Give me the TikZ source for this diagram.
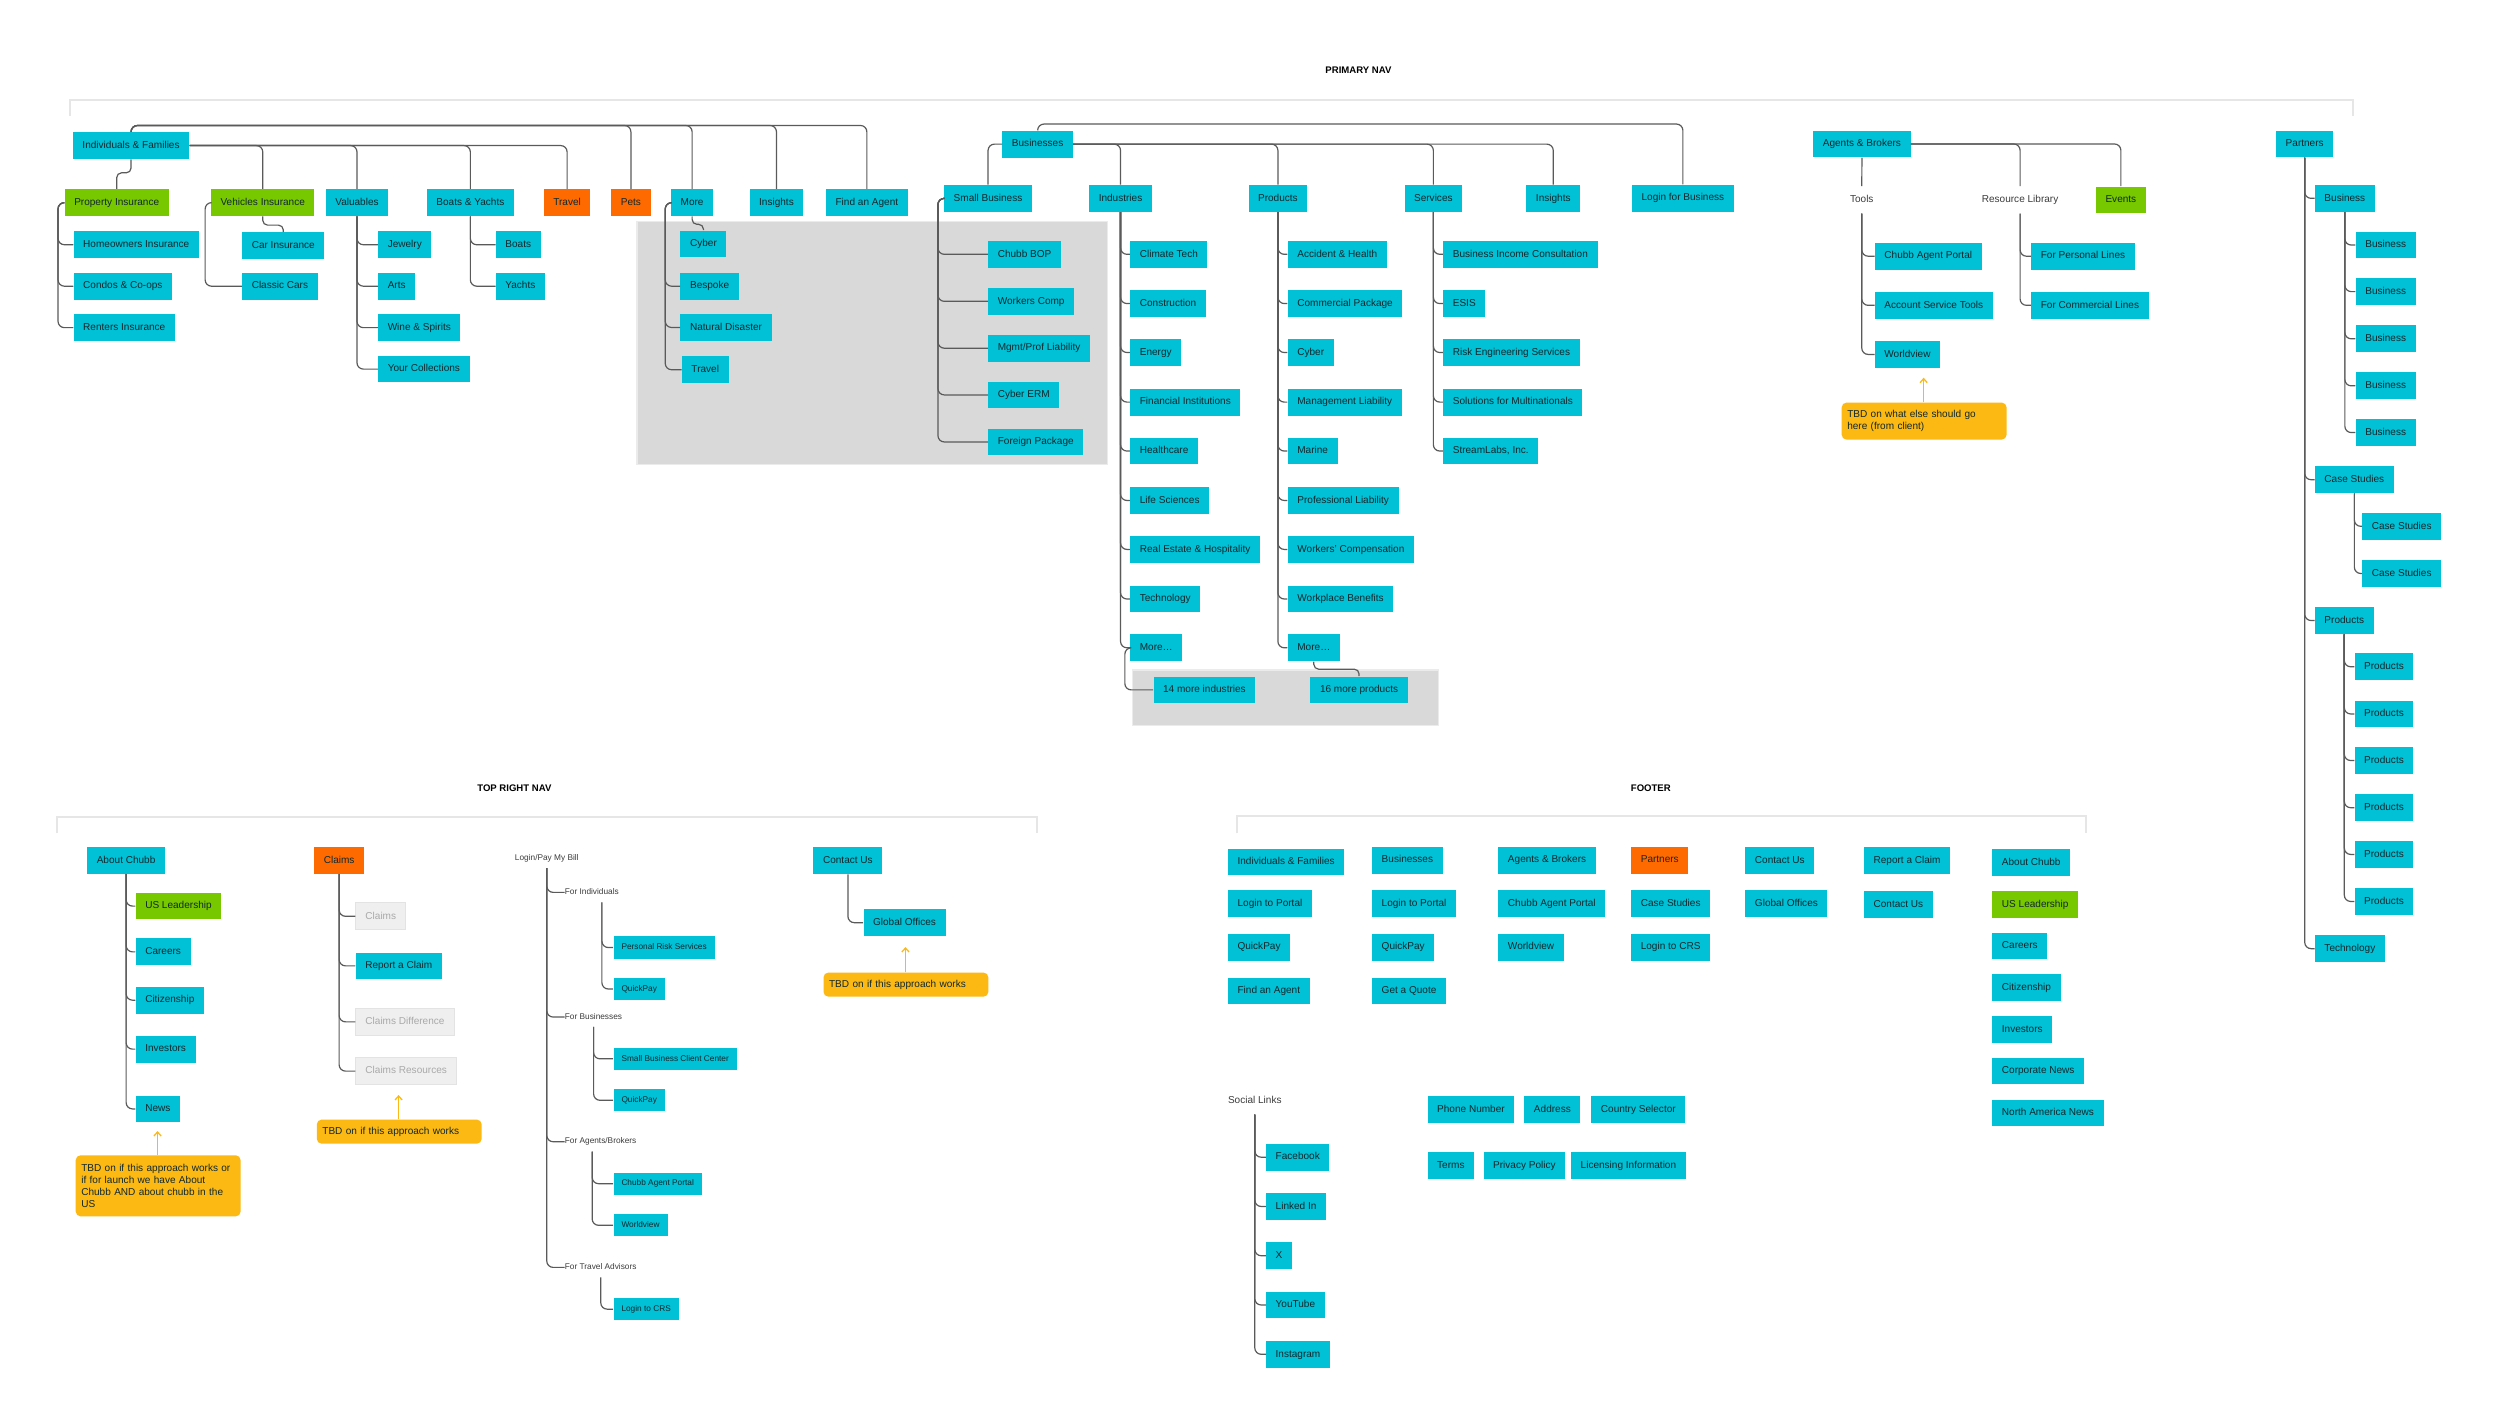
\documentclass[tikz,border=0pt]{standalone}
\usepackage{fontspec}
\setmainfont{Liberation Sans}
\usetikzlibrary{arrows.meta,calc}
\definecolor{cyanbox}{HTML}{00C1D6}
\definecolor{greenbox}{HTML}{78C800}
\definecolor{orangebox}{HTML}{FF6A00}
\definecolor{notecol}{HTML}{FDB913}
\definecolor{ink}{HTML}{10282D}
\definecolor{labelink}{HTML}{3C3C3C}
\definecolor{linecol}{HTML}{5A5A5A}
\definecolor{greyfill}{HTML}{EFEFEF}
\definecolor{greyline}{HTML}{E3E3E3}
\definecolor{greytext}{HTML}{A9A9A9}
\definecolor{areafill}{HTML}{D9D9D9}
\definecolor{arealine}{HTML}{EBEBEB}
\definecolor{brkcol}{HTML}{E6E6E6}
\newcommand\myfontA{\fontsize{6.3}{7.6}\selectfont}
\newcommand\myfontB{\fontsize{5.2}{6.2}\selectfont}
\newcommand\myfontT{\fontsize{6}{7}\selectfont\bfseries}
\begin{document}
\begin{tikzpicture}[x=1pt,y=-1pt,
  bx/.style={fill=cyanbox, text=ink, font=\myfontA, minimum height=16.8pt, inner xsep=6pt, inner ysep=0pt, text height=4.7pt, text depth=1.3pt},
  gbx/.style={bx, fill=greenbox},
  obx/.style={bx, fill=orangebox},
  qbx/.style={bx, fill=greyfill, draw=greyline, line width=0.6pt, text=greytext},
  sbx/.style={bx, font=\myfontB, minimum height=14pt, inner xsep=5pt, text height=3.9pt, text depth=1.1pt},
  lbl/.style={text=labelink, font=\myfontA, inner xsep=0pt, inner ysep=0pt, minimum height=16.8pt, text height=4.7pt, text depth=1.3pt},
  slbl/.style={lbl, font=\myfontB, minimum height=12pt, text height=3.9pt, text depth=1.1pt},
  ttl/.style={font=\myfontT, text=black},
  conn/.style={draw=linecol, line width=0.75pt, rounded corners=4pt},
  jog/.style={draw=linecol, line width=0.75pt, rounded corners=3pt},
  note/.style={fill=notecol, rounded corners=3pt, text=ink, font=\myfontA, align=left, text width=96.4pt, inner xsep=3.5pt, inner ysep=4pt, anchor=north west},
  arr/.style={draw=notecol, line width=0.8pt, -{Straight Barb[length=2.5pt,width=4.5pt]}},
  brk/.style={draw=brkcol, line width=1.3pt},
  area/.style={fill=areafill, draw=arealine, line width=0.8pt},
  w/.style={anchor=west}]
\useasboundingbox[fill=white] (0,0) rectangle (1568,894);

% ================= PRIMARY NAV =================
\node[ttl] (t1) at (852,44) {PRIMARY NAV};
\draw[brk] (44,72.5) -- (44,63) -- (1476,63) -- (1476,72.5);
\draw[area] (399.5,139) rectangle (694.5,291.3);
\draw[area] (710.5,420.2) rectangle (902.1,455.1);

% Individuals & Families
\node[bx] (ind) at (82.2,91.3) {Individuals \& Families};
\node[gbx] (prop) at (73.2,127.1) {Property Insurance};
\node[gbx] (veh) at (164.8,127.1) {Vehicles Insurance};
\node[bx] (val) at (223.9,127.1) {Valuables};
\node[bx] (boy) at (295,127.1) {Boats \& Yachts};
\node[obx] (trv) at (355.7,127.1) {Travel};
\node[obx] (pets) at (395.7,127.1) {Pets};
\node[bx] (more) at (434.1,127.1) {More};
\node[bx] (insa) at (487,127.1) {Insights};
\node[bx] (fag) at (543.7,127.1) {Find an Agent};

\node[bx,w] (home) at (46,153.5) {Homeowners Insurance};
\node[bx,w] (condo) at (46,179.5) {Condos \& Co-ops};
\node[bx,w] (rent) at (46,205.5) {Renters Insurance};
\node[bx,w] (car) at (151.7,154) {Car Insurance};
\node[bx,w] (classic) at (151.7,179.5) {Classic Cars};
\node[bx,w] (jew) at (237,153.5) {Jewelry};
\node[bx,w] (arts) at (237,179.5) {Arts};
\node[bx,w] (wine) at (237,205.5) {Wine \& Spirits};
\node[bx,w] (coll) at (237,231.5) {Your Collections};
\node[bx,w] (boat) at (310.8,153.5) {Boats};
\node[bx,w] (yacht) at (310.8,179.5) {Yachts};
\node[bx,w] (cyb) at (426.6,153) {Cyber};
\node[bx,w] (besp) at (426.6,179.5) {Bespoke};
\node[bx,w] (nat) at (426.6,205.4) {Natural Disaster};
\node[bx,w] (trv2) at (427.5,231.9) {Travel};

\foreach \c in {pets,more,insa,fag} \draw[conn] (ind.north) -- ++(0,-4) -| (\c.north);
\foreach \c in {veh,val,boy,trv} \draw[conn] (ind.east) -| (\c.north);
\draw[jog] (ind.south) -- ++(0,8.5) -| (prop.north);
\foreach \c in {home,condo,rent} \draw[conn] (prop.west) -- ++(-4,0) |- (\c.west);
\draw[jog] (veh.south) -- ++(0,5.5) -| (car.north);
\draw[conn] (veh.west) -- ++(-3.5,0) |- (classic.west);
\foreach \c in {jew,arts,wine,coll} \draw[conn] (val.south) |- (\c.west);
\foreach \c in {boat,yacht} \draw[conn] (boy.south) |- (\c.west);
\draw[jog] (more.south) -- ++(0,5) -| (cyb.north);
\foreach \c in {besp,nat,trv2} \draw[conn] (more.west) -- ++(-3.5,0) |- (\c.west);

% Businesses
\node[bx] (bus) at (650.8,90.4) {Businesses};
\node[bx] (sb) at (619.7,124.4) {Small Business};
\node[bx] (indus) at (702.8,124.4) {Industries};
\node[bx] (prod) at (801.5,124.4) {Products};
\node[bx] (serv) at (899,124.4) {Services};
\node[bx] (insb) at (974.2,124.4) {Insights};
\node[bx] (lfb) at (1055.5,124.3) {Login for Business};

\node[bx,w] (bop) at (619.6,159.5) {Chubb BOP};
\node[bx,w] (wc) at (619.6,189) {Workers Comp};
\node[bx,w] (mpl) at (619.6,218.4) {Mgmt/Prof Liability};
\node[bx,w] (cerm) at (619.6,247.7) {Cyber ERM};
\node[bx,w] (fpk) at (619.6,277.2) {Foreign Package};

\node[bx,w] (i1) at (708.7,159.5) {Climate Tech};
\node[bx,w] (i2) at (708.7,190.4) {Construction};
\node[bx,w] (i3) at (708.7,221.1) {Energy};
\node[bx,w] (i4) at (708.7,252.2) {Financial Institutions};
\node[bx,w] (i5) at (708.7,282.9) {Healthcare};
\node[bx,w] (i6) at (708.7,313.9) {Life Sciences};
\node[bx,w] (i7) at (708.7,344.6) {Real Estate \& Hospitality};
\node[bx,w] (i8) at (708.7,375.7) {Technology};
\node[bx,w] (i9) at (708.7,406.3) {More…};

\node[bx,w] (p1) at (807.5,159.5) {Accident \& Health};
\node[bx,w] (p2) at (807.5,190.4) {Commercial Package};
\node[bx,w] (p3) at (807.5,221.1) {Cyber};
\node[bx,w] (p4) at (807.5,252.2) {Management Liability};
\node[bx,w] (p5) at (807.5,282.9) {Marine};
\node[bx,w] (p6) at (807.5,313.9) {Professional Liability};
\node[bx,w] (p7) at (807.5,344.6) {Workers’ Compensation};
\node[bx,w] (p8) at (807.5,375.7) {Workplace Benefits};
\node[bx,w] (p9) at (807.5,406.3) {More…};

\node[bx,w] (s1) at (905,159.5) {Business Income Consultation};
\node[bx,w] (s2) at (905,190.4) {ESIS};
\node[bx,w] (s3) at (905,221.1) {Risk Engineering Services};
\node[bx,w] (s4) at (905,252.2) {Solutions for Multinationals};
\node[bx,w] (s5) at (905,282.9) {StreamLabs, Inc.};

\node[bx,w] (m14) at (723.3,432.7) {14 more industries};
\node[bx,w] (m16) at (821.7,432.7) {16 more products};

\draw[conn] (bus.north) -- ++(0,-4) -| (lfb.north);
\foreach \c in {indus,prod,serv,insb} \draw[conn] (bus.east) -| (\c.north);
\draw[conn] (bus.west) -| (sb.north);
\foreach \c in {bop,wc,mpl,cerm,fpk} \draw[conn] (sb.west) -- ++(-3.7,0) |- (\c.west);
\foreach \c in {i1,i2,i3,i4,i5,i6,i7,i8,i9} \draw[conn] (indus.south) |- (\c.west);
\foreach \c in {p1,p2,p3,p4,p5,p6,p7,p8,p9} \draw[conn] (prod.south) |- (\c.west);
\foreach \c in {s1,s2,s3,s4,s5} \draw[conn] (serv.south) |- (\c.west);
\draw[conn] (i9.west) -- ++(-3.2,0) |- (m14.west);
\draw[jog] (p9.south) -- ++(0,4.8) -| (m16.north);

% Agents & Brokers
\node[bx] (ab) at (1167.8,90.3) {Agents \& Brokers};
\node[lbl] (tools) at (1167.7,125.4) {Tools};
\node[lbl] (rl) at (1267,125.4) {Resource Library};
\node[gbx] (ev) at (1330.2,125.4) {Events};
\node[bx,w] (cap) at (1175.7,160.7) {Chubb Agent Portal};
\node[bx,w] (ast) at (1175.7,191.5) {Account Service Tools};
\node[bx,w] (wv) at (1175.7,222.3) {Worldview};
\node[bx,w] (fpl) at (1273.8,160.7) {For Personal Lines};
\node[bx,w] (fcl) at (1273.8,191.5) {For Commercial Lines};
\node[note,minimum height=23.2pt] (nab) at (1154.9,252.3) {TBD on what else should go\\here (from client)};
\coordinate (tab) at (1206.5,236.9);

\draw[conn] (ab.south) -- (tools.north);
\foreach \c in {rl,ev} \draw[conn] (ab.east) -| (\c.north);
\foreach \c in {cap,ast,wv} \draw[conn] (tools.south) |- (\c.west);
\foreach \c in {fpl,fcl} \draw[conn] (rl.south) |- (\c.west);
\draw[arr] (nab.north -| tab) -- (tab);

% Partners
\node[bx] (part) at (1445.5,90.3) {Partners};
\node[bx,w] (pbus) at (1451.7,124.4) {Business};
\node[bx,w] (pcs) at (1451.7,300.9) {Case Studies};
\node[bx,w] (ppr) at (1451.7,389.2) {Products};
\node[bx,w] (pte) at (1451.7,595) {Technology};
\node[bx,w] (pb1) at (1477.3,153.7) {Business};
\node[bx,w] (pb2) at (1477.3,182.9) {Business};
\node[bx,w] (pb3) at (1477.3,212.5) {Business};
\node[bx,w] (pb4) at (1477.3,242) {Business};
\node[bx,w] (pb5) at (1477.3,271.3) {Business};
\node[bx,w] (pc1) at (1481.4,330.1) {Case Studies};
\node[bx,w] (pc2) at (1481.4,359.7) {Case Studies};
\node[bx,w] (pp1) at (1476.6,418.2) {Products};
\node[bx,w] (pp2) at (1476.6,447.8) {Products};
\node[bx,w] (pp3) at (1476.6,477) {Products};
\node[bx,w] (pp4) at (1476.6,506.6) {Products};
\node[bx,w] (pp5) at (1476.6,535.9) {Products};
\node[bx,w] (pp6) at (1476.6,565.4) {Products};
\foreach \c in {pbus,pcs,ppr,pte} \draw[conn] (part.south) |- (\c.west);
\foreach \c in {pb1,pb2,pb3,pb4,pb5} \draw[conn] (pbus.south) |- (\c.west);
\foreach \c in {pc1,pc2} \draw[conn] (pcs.south) |- (\c.west);
\foreach \c in {pp1,pp2,pp3,pp4,pp5,pp6} \draw[conn] (ppr.south) |- (\c.west);

% ================= TOP RIGHT NAV =================
\node[ttl] (t2) at (322.6,494.2) {TOP RIGHT NAV};
\draw[brk] (35.8,522.6) -- (35.8,512.2) -- (650.5,512.2) -- (650.5,522.6);

\node[bx] (abt) at (79.1,539.7) {About Chubb};
\node[gbx,w] (usl) at (84.9,568.3) {US Leadership};
\node[bx,w] (car2) at (84.9,597) {Careers};
\node[bx,w] (cit) at (84.9,627.3) {Citizenship};
\node[bx,w] (inv) at (84.9,658) {Investors};
\node[bx,w] (news) at (84.9,695.5) {News};
\foreach \c in {usl,car2,cit,inv,news} \draw[conn] (abt.south) |- (\c.west);
\node[note,minimum height=38.3pt] (n1) at (47.3,724.4) {TBD on if this approach works or\\if for launch we have About\\Chubb AND about chubb in the\\US};
\coordinate (tn1) at (98.8,709.4);
\draw[arr] (n1.north -| tn1) -- (tn1);

\node[obx] (clm) at (212.7,539.7) {Claims};
\node[qbx,w] (cl) at (222.9,574.7) {Claims};
\node[bx,w] (rac) at (222.9,605.8) {Report a Claim};
\node[qbx,w] (cd) at (222.9,640.9) {Claims Difference};
\node[qbx,w] (cr) at (222.9,671.8) {Claims Resources};
\foreach \c in {cl,rac,cd,cr} \draw[conn] (clm.south) |- (\c.west);
\node[note,minimum height=15.1pt] (n2) at (198.5,702) {TBD on if this approach works};
\coordinate (tn2) at (250,686.8);
\draw[arr] (n2.north -| tn2) -- (tn2);

\node[slbl,w] (lp) at (322.8,538.3) {Login/Pay My Bill};
\node[slbl,w] (fi) at (354.1,559.7) {For Individuals};
\node[slbl,w] (fb2) at (354.1,637.9) {For Businesses};
\node[slbl,w] (fa2) at (354.1,716.1) {For Agents/Brokers};
\node[slbl,w] (ft) at (354.1,794.9) {For Travel Advisors};
\node[sbx,w] (prs) at (384.6,594.3) {Personal Risk Services};
\node[sbx,w] (qp1) at (384.6,620.3) {QuickPay};
\node[sbx,w] (sbcc) at (384.6,664.1) {Small Business Client Center};
\node[sbx,w] (qp2) at (384.6,690.1) {QuickPay};
\node[sbx,w] (cap2) at (384.6,742.4) {Chubb Agent Portal};
\node[sbx,w] (wv2) at (384.6,768.5) {Worldview};
\node[sbx,w] (crs) at (384.6,821.1) {Login to CRS};
\foreach \c in {fi,fb2,fa2,ft} \draw[conn] (lp.south) |- (\c.west);
\foreach \c in {prs,qp1} \draw[conn] ($(fi.south west)+(23.4,0)$) |- (\c.west);
\foreach \c in {sbcc,qp2} \draw[conn] ($(fb2.south west)+(18.2,0)$) |- (\c.west);
\foreach \c in {cap2,wv2} \draw[conn] ($(fa2.south west)+(17.3,0)$) |- (\c.west);
\draw[conn] ($(ft.south west)+(22.7,0)$) |- (crs.west);

\node[bx] (cu) at (531.8,539.8) {Contact Us};
\node[bx,w] (go) at (541.4,578.7) {Global Offices};
\draw[conn] (cu.south) |- (go.west);
\node[note,minimum height=15.1pt] (n3) at (516.3,609.8) {TBD on if this approach works};
\coordinate (tn3) at (567.9,594);
\draw[arr] (n3.north -| tn3) -- (tn3);

% ================= FOOTER =================
\node[ttl] (t3) at (1035.4,494.2) {FOOTER};
\draw[brk] (775.7,522.7) -- (775.7,512) -- (1308.1,512) -- (1308.1,522.7);

\node[bx,w] (f11) at (770,540.6) {Individuals \& Families};
\node[bx,w] (f12) at (770,566.6) {Login to Portal};
\node[bx,w] (f13) at (770,594.1) {QuickPay};
\node[bx,w] (f14) at (770,621.6) {Find an Agent};
\node[bx,w] (f21) at (860.4,539.5) {Businesses};
\node[bx,w] (f22) at (860.4,566.6) {Login to Portal};
\node[bx,w] (f23) at (860.4,594.1) {QuickPay};
\node[bx,w] (f24) at (860.4,621.6) {Get a Quote};
\node[bx,w] (f31) at (939.6,539.5) {Agents \& Brokers};
\node[bx,w] (f32) at (939.6,566.6) {Chubb Agent Portal};
\node[bx,w] (f33) at (939.6,594.1) {Worldview};
\node[obx,w] (f41) at (1022.9,539.5) {Partners};
\node[bx,w] (f42) at (1022.9,566.6) {Case Studies};
\node[bx,w] (f43) at (1022.9,594.1) {Login to CRS};
\node[bx,w] (f51) at (1094.5,539.7) {Contact Us};
\node[bx,w] (f52) at (1094.5,566.6) {Global Offices};
\node[bx,w] (f61) at (1168.9,539.7) {Report a Claim};
\node[bx,w] (f62) at (1168.9,567.2) {Contact Us};
\node[bx,w] (f71) at (1249.4,541.1) {About Chubb};
\node[gbx,w] (f72) at (1249.4,567.2) {US Leadership};
\node[bx,w] (f73) at (1249.4,593.3) {Careers};
\node[bx,w] (f74) at (1249.4,619.4) {Citizenship};
\node[bx,w] (f75) at (1249.4,645.6) {Investors};
\node[bx,w] (f76) at (1249.4,671.7) {Corporate News};
\node[bx,w] (f77) at (1249.4,698) {North America News};

\node[lbl,w] (soc) at (770,690.5) {Social Links};
\node[bx,w] (fbk) at (793.9,725.8) {Facebook};
\node[bx,w] (lin) at (793.9,756.7) {Linked In};
\node[bx,w] (xx) at (793.9,787.6) {X};
\node[bx,w] (yt) at (793.9,818.5) {YouTube};
\node[bx,w] (ig) at (793.9,849.4) {Instagram};
\foreach \c in {fbk,lin,xx,yt,ig} \draw[conn] (soc.south) |- (\c.west);

\node[bx,w] (pn) at (895.2,695.9) {Phone Number};
\node[bx,w] (adr) at (955.9,695.9) {Address};
\node[bx,w] (csel) at (997.9,695.9) {Country Selector};
\node[bx,w] (terms) at (895.2,731.2) {Terms};
\node[bx,w] (pp) at (930.3,731.2) {Privacy Policy};
\node[bx,w] (lic) at (985.2,731.2) {Licensing Information};
\end{tikzpicture}
\end{document}
